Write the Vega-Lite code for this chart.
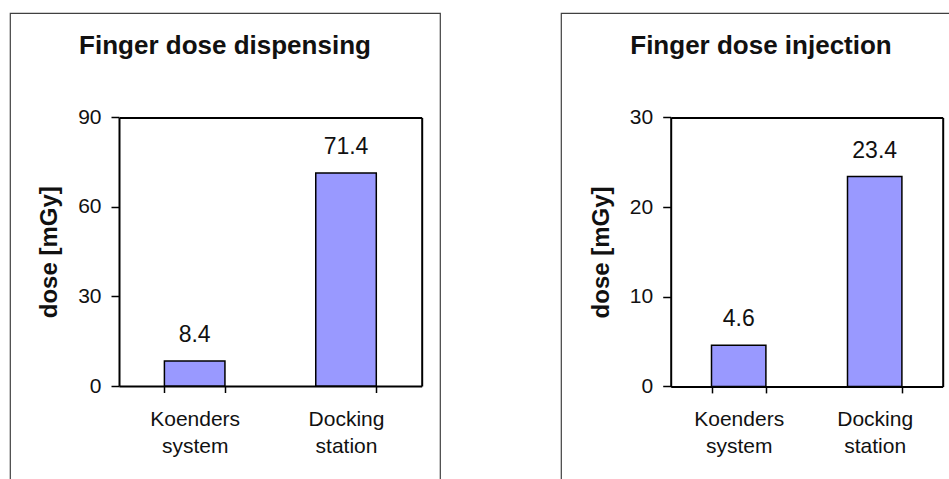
{
  "$schema": "https://vega.github.io/schema/vega-lite/v6.json",
  "padding": {"left": 9, "top": 12, "right": 0, "bottom": 0},
  "background": "white",
  "spacing": 119,
  "config": {
    "font": "Liberation Sans",
    "view": {"stroke": "#404040", "strokeWidth": 1.2},
    "axis": {"labelColor": "#111", "titleColor": "#111", "domainColor": "#000", "tickColor": "#000", "grid": false}
  },
  "hconcat": [
    {
      "width": 430,
      "height": 480,
      "title": {"text": "Finger dose dispensing", "fontSize": 26, "fontWeight": "bold", "baseline": "alphabetic", "offset": -67, "anchor": "middle", "frame": "group", "color": "#111"},
      "data": {"values": [{"system": "Koenders system", "dose": 8.4}, {"system": "Docking station", "dose": 71.4}]},
      "layer": [
        {
          "mark": {"type": "bar", "fill": "#9999FF", "stroke": "#000", "strokeWidth": 1.5},
          "encoding": {
            "x": {"field": "system", "type": "nominal", "sort": null,
              "scale": {"range": [109, 411.7], "paddingInner": 0.6, "paddingOuter": 0.3},
              "axis": {"orient": "bottom", "offset": -107, "title": null, "labelAngle": 0, "labelExpr": "split(datum.label, ' ')", "labelFontSize": 21, "labelLineHeight": 27, "labelPadding": 16, "tickBand": "extent", "tickSize": 6.5, "tickWidth": 1.5, "domainWidth": 2}},
            "y": {"field": "dose", "type": "quantitative",
              "scale": {"domain": [0, 90], "range": [373, 104.4], "nice": false},
              "axis": {"orient": "left", "offset": -109, "values": [0, 30, 60, 90], "title": "dose [mGy]", "titleFontSize": 24, "titleFontWeight": "bold", "titlePadding": 16, "labelFontSize": 21, "labelPadding": 10, "tickSize": 8, "tickWidth": 1.5, "domainWidth": 2}}
          }
        },
        {
          "mark": {"type": "text", "fontSize": 23, "dy": -19, "baseline": "alphabetic", "color": "#111"},
          "encoding": {
            "x": {"field": "system", "type": "nominal", "sort": null,
              "scale": {"range": [109, 411.7], "paddingInner": 0.6, "paddingOuter": 0.3},
              "axis": {"orient": "top", "offset": -104.4, "labels": false, "ticks": false, "title": null, "domainWidth": 2}},
            "y": {"field": "dose", "type": "quantitative",
              "scale": {"domain": [0, 90], "range": [373, 104.4], "nice": false},
              "axis": {"orient": "right", "offset": -18.3, "labels": false, "ticks": false, "title": null, "domainWidth": 2}},
            "text": {"field": "dose", "type": "quantitative", "format": ".1f"}
          }
        }
      ],
      "resolve": {"axis": {"x": "independent", "y": "independent"}}
    },
    {
      "width": 400,
      "height": 480,
      "title": {"text": "Finger dose injection", "fontSize": 26, "fontWeight": "bold", "baseline": "alphabetic", "offset": -67, "anchor": "middle", "frame": "group", "color": "#111"},
      "data": {"values": [{"system": "Koenders system", "dose": 4.6}, {"system": "Docking station", "dose": 23.4}]},
      "layer": [
        {
          "mark": {"type": "bar", "fill": "#9999FF", "stroke": "#000", "strokeWidth": 1.5},
          "encoding": {
            "x": {"field": "system", "type": "nominal", "sort": null,
              "scale": {"range": [109.7, 381.7], "paddingInner": 0.6, "paddingOuter": 0.3},
              "axis": {"orient": "bottom", "offset": -106.6, "title": null, "labelAngle": 0, "labelExpr": "split(datum.label, ' ')", "labelFontSize": 21, "labelLineHeight": 27, "labelPadding": 16, "tickBand": "extent", "tickSize": 6.5, "tickWidth": 1.5, "domainWidth": 2}},
            "y": {"field": "dose", "type": "quantitative",
              "scale": {"domain": [0, 30], "range": [373.4, 104.4], "nice": false},
              "axis": {"orient": "left", "offset": -109.7, "values": [0, 10, 20, 30], "title": "dose [mGy]", "titleFontSize": 24, "titleFontWeight": "bold", "titlePadding": 16, "labelFontSize": 21, "labelPadding": 10, "tickSize": 8, "tickWidth": 1.5, "domainWidth": 2}}
          }
        },
        {
          "mark": {"type": "text", "fontSize": 23, "dy": -19, "baseline": "alphabetic", "color": "#111"},
          "encoding": {
            "x": {"field": "system", "type": "nominal", "sort": null,
              "scale": {"range": [109.7, 381.7], "paddingInner": 0.6, "paddingOuter": 0.3},
              "axis": {"orient": "top", "offset": -104.4, "labels": false, "ticks": false, "title": null, "domainWidth": 2}},
            "y": {"field": "dose", "type": "quantitative",
              "scale": {"domain": [0, 30], "range": [373.4, 104.4], "nice": false},
              "axis": {"orient": "right", "offset": -18.3, "labels": false, "ticks": false, "title": null, "domainWidth": 2}},
            "text": {"field": "dose", "type": "quantitative", "format": ".1f"}
          }
        }
      ],
      "resolve": {"axis": {"x": "independent", "y": "independent"}}
    }
  ]
}
